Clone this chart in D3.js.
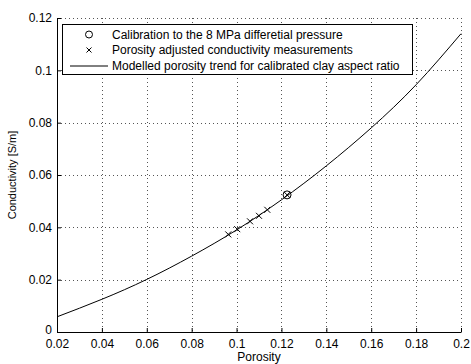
<!DOCTYPE html>
<html>
<head>
<meta charset="utf-8">
<script src="https://cdnjs.cloudflare.com/ajax/libs/d3/7.8.5/d3.min.js"></script>
<style>
  body { margin: 0; background: #fff; }
  svg text { font-family: "Liberation Sans", Arial, sans-serif; fill: #000; }
</style>
</head>
<body>
<svg class="chart" width="471" height="364"></svg>
<script>
/* modelled trend */
const trendPorosity = [0.02, 0.04, 0.06, 0.08, 0.10, 0.12, 0.14, 0.16, 0.18, 0.20]
const trendCond = [0.0058, 0.0125, 0.0201, 0.0290, 0.0390, 0.0505, 0.0635, 0.0780, 0.0945, 0.1140]

/* measurements */
const measPorosity = [0.0963, 0.1003, 0.1060, 0.1100, 0.1137, 0.1225]
const measCond = [0.0373, 0.0393, 0.0423, 0.0444, 0.0467, 0.0524]

/* calibration point */
const calPorosity = [0.1225]
const calCond = [0.0524]

const xTicks = [0.02, 0.04, 0.06, 0.08, 0.1, 0.12, 0.14, 0.16, 0.18, 0.2]
const yTicks = [0, 0.02, 0.04, 0.06, 0.08, 0.1, 0.12]

const legendLabels = [
    "Calibration to the 8 MPa differetial pressure",
    "Porosity adjusted conductivity measurements",
    "Modelled porosity trend for calibrated clay aspect ratio"
]

const plotLeft = 57, plotRight = 461, plotTop = 18, plotBottom = 332

const svg = d3.select("svg.chart")

const x = d3.scaleLinear().domain([0.02, 0.2]).range([plotLeft, plotRight])
const y = d3.scaleLinear().domain([0, 0.12]).range([plotBottom, plotTop])

// grid
const grid = svg.append("g")
    .attr("stroke", "#555")
    .attr("stroke-width", 1)
    .attr("stroke-dasharray", "1,3")
    .attr("shape-rendering", "crispEdges")

grid.selectAll("line.gx")
    .data(xTicks.slice(1))
    .enter()
    .append("line")
    .attr("class", "gx")
    .attr("x1", d => Math.round(x(d)) + 0.5)
    .attr("x2", d => Math.round(x(d)) + 0.5)
    .attr("y1", plotTop)
    .attr("y2", plotBottom)

grid.selectAll("line.gy")
    .data(yTicks.slice(1))
    .enter()
    .append("line")
    .attr("class", "gy")
    .attr("x1", plotLeft)
    .attr("x2", plotRight)
    .attr("y1", d => Math.round(y(d)) + 0.5)
    .attr("y2", d => Math.round(y(d)) + 0.5)

// axes
const fmt = d => String(+d.toFixed(2))

const xAxis = d3.axisBottom(x)
    .tickValues(xTicks)
    .tickFormat(fmt)
    .tickSizeInner(-4)
    .tickSizeOuter(0)
    .tickPadding(7)

const yAxis = d3.axisLeft(y)
    .tickValues(yTicks)
    .tickFormat(fmt)
    .tickSizeInner(-4)
    .tickSizeOuter(0)
    .tickPadding(5)

const gx = svg.append("g")
    .attr("transform", "translate(0," + plotBottom + ")")
    .call(xAxis)
const gy = svg.append("g")
    .attr("transform", "translate(" + plotLeft + ",0)")
    .call(yAxis)

;[gx, gy].forEach(g => {
    g.selectAll("text").attr("font-size", 12).attr("font-family", "Liberation Sans, Arial, sans-serif")
    g.select(".domain").attr("stroke", "#000")
    g.selectAll(".tick line").attr("stroke", "#000")
})
// the "0" label sits just above the first x label
gy.selectAll(".tick text").filter(d => d === 0).attr("dy", "0.1em")

svg.append("text")
    .attr("x", (plotLeft + plotRight) / 2)
    .attr("y", 361)
    .attr("text-anchor", "middle")
    .attr("font-size", 12)
    .text("Porosity")

svg.append("text")
    .attr("transform", "translate(16," + (plotTop + plotBottom) / 2 + ") rotate(-90)")
    .attr("text-anchor", "middle")
    .attr("font-size", 11)
    .text("Conductivity [S/m]")

// trend line
const trend = trendPorosity.map((p, i) => [p, trendCond[i]])
const line = d3.line()
    .x(d => x(d[0]))
    .y(d => y(d[1]))
    .curve(d3.curveNatural)

svg.append("path")
    .attr("d", line(trend))
    .attr("fill", "none")
    .attr("stroke", "#000")
    .attr("stroke-width", 1)

// crosses
const cross = (cx, cy, s) => "M" + (cx - s) + "," + (cy - s) + "L" + (cx + s) + "," + (cy + s) +
    "M" + (cx - s) + "," + (cy + s) + "L" + (cx + s) + "," + (cy - s)

svg.selectAll("path.meas")
    .data(measPorosity.map((p, i) => [p, measCond[i]]))
    .enter()
    .append("path")
    .attr("class", "meas")
    .attr("d", d => cross(x(d[0]), y(d[1]), 3))
    .attr("stroke", "#000")
    .attr("stroke-width", 1)

svg.selectAll("circle.cal")
    .data(calPorosity.map((p, i) => [p, calCond[i]]))
    .enter()
    .append("circle")
    .attr("class", "cal")
    .attr("cx", d => x(d[0]))
    .attr("cy", d => y(d[1]))
    .attr("r", 4)
    .attr("fill", "none")
    .attr("stroke", "#000")
    .attr("stroke-width", 1)

// legend
const lg = svg.append("g")
lg.append("rect")
    .attr("x", 62.5)
    .attr("y", 24.5)
    .attr("width", 350)
    .attr("height", 50)
    .attr("fill", "#fff")
    .attr("stroke", "#000")

const rowY = [34.5, 50, 65.5]
lg.append("circle")
    .attr("cx", 89).attr("cy", rowY[0]).attr("r", 3.5)
    .attr("fill", "none").attr("stroke", "#000")
lg.append("path")
    .attr("d", cross(89, rowY[1], 2.5))
    .attr("stroke", "#000")
lg.append("line")
    .attr("x1", 70).attr("x2", 108)
    .attr("y1", rowY[2] + 0.5).attr("y2", rowY[2] + 0.5)
    .attr("stroke", "#000")

lg.selectAll("text")
    .data(legendLabels)
    .enter()
    .append("text")
    .attr("x", 112)
    .attr("y", (d, i) => rowY[i])
    .attr("dy", "0.35em")
    .attr("font-size", 12)
    .text(d => d)
</script>
</body>
</html>
